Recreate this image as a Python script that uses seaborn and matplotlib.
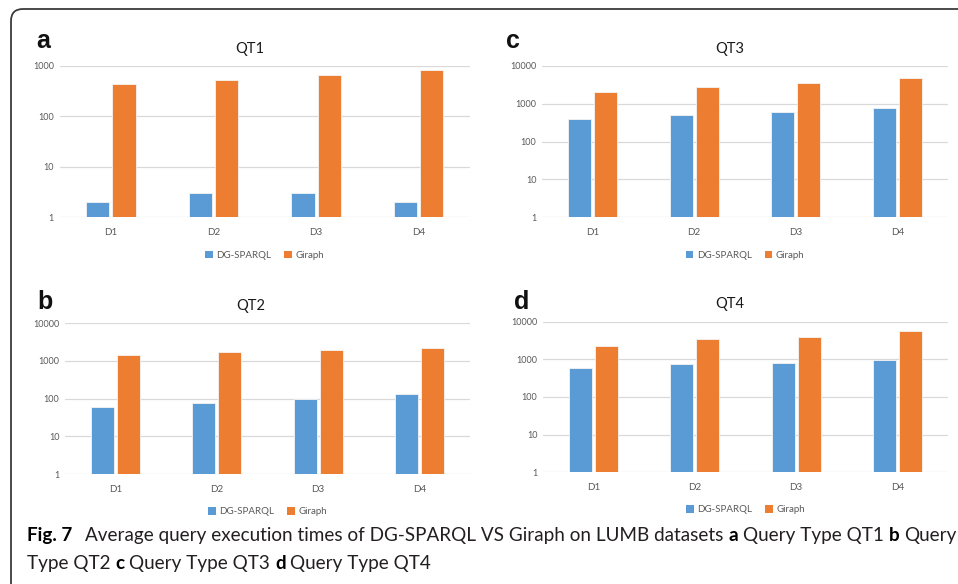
import matplotlib
matplotlib.use("Agg")
import matplotlib.pyplot as plt
import seaborn as sns
import pandas as pd
import numpy as np
from matplotlib.patches import Patch, FancyBboxPatch
from matplotlib.transforms import IdentityTransform
from matplotlib.ticker import FixedLocator, FuncFormatter, NullLocator

# ---------------- data ----------------
datasets = ["D1", "D2", "D3", "D4"]
systems = ["DG-SPARQL", "Giraph"]
qt1_dg = [2, 3, 3, 2]
qt1_giraph = [430, 530, 670, 830]
qt2_dg = [60, 78, 100, 130]
qt2_giraph = [1410, 1700, 1950, 2240]
qt3_dg = [400, 510, 590, 780]
qt3_giraph = [2050, 2800, 3640, 4930]
qt4_dg = [590, 740, 785, 960]
qt4_giraph = [2260, 3400, 3850, 5650]
panel_titles = ["QT1", "QT2", "QT3", "QT4"]
panel_letters = ["a", "b", "c", "d"]

BLUE = "#5B9BD5"
ORANGE = "#ED7D31"
GRID = "#D9D9D9"
TICK = "#595959"

W, H = 958, 584
sns.set_theme(style="white")
plt.rcParams["font.family"] = ["Lato", "DejaVu Sans"]

fig = plt.figure(figsize=(W / 100, H / 100), dpi=100)
fig.patch.set_facecolor("white")

def px_axes(x0, y0, x1, y1):
    return fig.add_axes([x0 / W, 1 - y1 / H, (x1 - x0) / W, (y1 - y0) / H])

panels = [
    # (dg, giraph, ymax, box, title pos, letter pos)
    (qt1_dg, qt1_giraph, 1000, (59.5, 66, 470, 217.3), (250, 53), (36, 48)),
    (qt2_dg, qt2_giraph, 10000, (65, 323.3, 470, 474), (251, 310), (37, 309)),
    (qt3_dg, qt3_giraph, 10000, (542, 66, 948, 217.3), (730, 53), (506, 48)),
    (qt4_dg, qt4_giraph, 10000, (543, 321.7, 948, 472.3), (730, 308), (514, 309)),
]

for i, (dg, gi, ymax, box, tpos, lpos) in enumerate(panels):
    ax = px_axes(*box)
    df = pd.DataFrame({
        "dataset": datasets * 2,
        "time": list(dg) + list(gi),
        "system": [systems[0]] * 4 + [systems[1]] * 4,
    })
    ax.set_yscale("log")
    sns.barplot(data=df, x="dataset", y="time", hue="system",
                palette=[BLUE, ORANGE], saturation=1, width=0.51, gap=0.11,
                edgecolor="#f4f4f4", linewidth=0.6, errorbar=None,
                legend=False, ax=ax, zorder=3)
    ax.set_ylim(1, ymax)
    ax.set_xlim(-0.5, 3.5)
    ticks = [10 ** k for k in range(int(round(np.log10(ymax))) + 1)]
    ax.yaxis.set_major_locator(FixedLocator(ticks))
    ax.yaxis.set_minor_locator(NullLocator())
    ax.yaxis.set_major_formatter(FuncFormatter(lambda v, p: f"{v:g}"))
    ax.grid(axis="y", color=GRID, linewidth=0.9, zorder=0)
    ax.grid(axis="x", visible=False)
    for s in ax.spines.values():
        s.set_visible(False)
    ax.tick_params(axis="y", length=0, pad=4, labelsize=6.5, labelcolor=TICK)
    ax.tick_params(axis="x", length=0, pad=8, labelsize=7, labelcolor=TICK)
    ax.set_xlabel("")
    ax.set_ylabel("")
    ax.set_facecolor("white")
    handles = [Patch(facecolor=BLUE, edgecolor="none"), Patch(facecolor=ORANGE, edgecolor="none")]
    ax.legend(handles, systems, loc="center", bbox_to_anchor=(0.5, -0.25), ncol=2,
              frameon=False, fontsize=7, labelcolor=TICK, handlelength=0.8,
              handleheight=0.8, handletextpad=0.35, columnspacing=1.3)
    fig.text(tpos[0] / W, 1 - tpos[1] / H, panel_titles[i], ha="center", va="baseline",
             fontsize=10.5, color="#1a1a1a")
    fig.text(lpos[0] / W, 1 - lpos[1] / H, panel_letters[i], ha="left", va="baseline",
             fontsize=18, fontweight="bold", family=["Liberation Sans", "DejaVu Sans"],
             color="#111111")

# border box
border = FancyBboxPatch((11, -12), 990, 575 + 12,
                        boxstyle="round,pad=0,rounding_size=12",
                        transform=IdentityTransform(), facecolor="none",
                        edgecolor="#3c3c3c", linewidth=1.3)
fig.patches.append(border)

# caption
renderer = fig.canvas.get_renderer()
CAP_FONT = ["Lato", "DejaVu Sans"]
line1 = [("Fig. 7", "bold"), ("GAP", None),
         ("Average query execution times of DG-SPARQL VS Giraph on LUMB datasets", "normal"),
         ("a", "bold"), ("Query Type QT1", "normal"), ("b", "bold"), ("Query", "normal")]
line2 = [("Type QT2", "normal"), ("c", "bold"), ("Query Type QT3", "normal"),
         ("d", "bold"), ("Query Type QT4", "normal")]

def text_w(s, size, weight):
    t = fig.text(0, 0, s, fontsize=size, fontweight=weight, family=CAP_FONT)
    w = t.get_window_extent(renderer).width
    t.remove()
    return w

GAPF = 2.6

def line_width(pieces, size):
    sp = text_w("x x", size, "normal") - text_w("xx", size, "normal")
    total = 0
    first = True
    for s, wgt in pieces:
        if s == "GAP":
            total += sp * GAPF
            first = True
            continue
        if not first:
            total += sp
        total += text_w(s, size, wgt)
        first = False
    return total

base = 12.0
size = base * (952 - 27) / line_width(line1, base)

def draw_line(pieces, x0, ybase, size):
    sp = text_w("x x", size, "normal") - text_w("xx", size, "normal")
    x = x0
    first = True
    for s, wgt in pieces:
        if s == "GAP":
            x += sp * GAPF
            first = True
            continue
        if not first:
            x += sp
        t = fig.text(x / W, 1 - ybase / H, s, fontsize=size, fontweight=wgt,
                     family=CAP_FONT, ha="left", va="baseline",
                     color="#000000" if wgt == "bold" else "#231f20")
        x = t.get_window_extent(renderer).x1
        first = False

draw_line(line1, 27, 541, size)
draw_line(line2, 27, 569, size)

fig.savefig("out.png", dpi=100)
